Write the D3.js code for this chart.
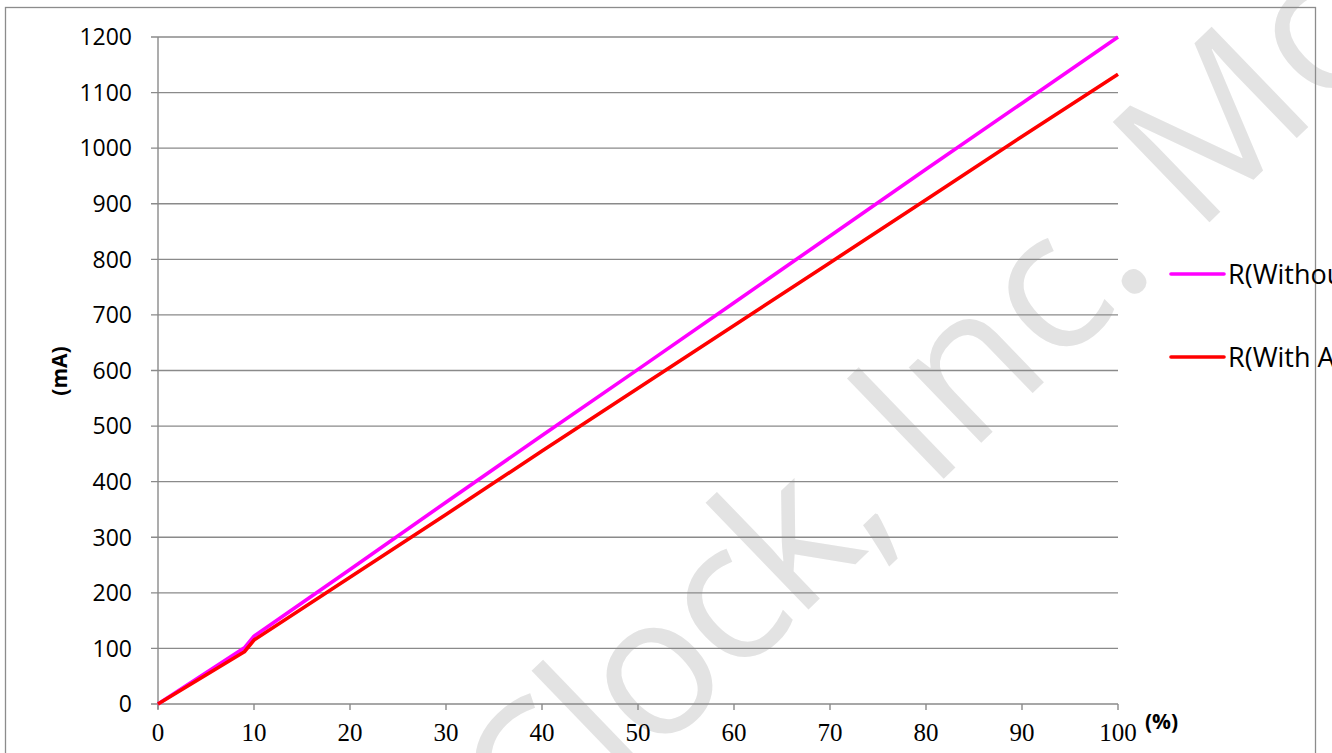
<!DOCTYPE html>
<html>
<head>
<meta charset="utf-8">
<script src="https://cdn.jsdelivr.net/npm/d3@7"></script>
<style>
    html, body { margin: 0; padding: 0; background: #fff; overflow: hidden; }
    svg { display: block; }
    .axis-title { font-family: "Open Sans", sans-serif; font-weight: bold; font-size: 21px; fill: #000; }
    .legend-label { font-family: "Open Sans", sans-serif; font-size: 27px; fill: #000; }
    .watermark { font-family: "Open Sans", sans-serif; font-size: 195px; fill: #e3e3e3; }
</style>
</head>
<body>
<div id="chart"></div>
<script>
// ===== Data =====
const percentValues = [0, 9, 10, 20, 30, 40, 50, 60, 70, 80, 90, 100];
const withoutValues = [0, 101, 122, 242, 363, 483, 602, 722, 842, 962, 1081, 1200];
const withValues = [0, 94, 115, 228, 341, 455, 568, 681, 794, 907, 1021, 1133];
const seriesNames = ['R(Without Adjust)', 'R(With Adjust)'];
const seriesColors = ['#ff00ff', '#ff0000'];
const yTicks = [0, 100, 200, 300, 400, 500, 600, 700, 800, 900, 1000, 1100, 1200];
const xTicks = [0, 10, 20, 30, 40, 50, 60, 70, 80, 90, 100];

// ===== Layout =====
const W = 1332, H = 753;
const plot = { left: 158, right: 1118, top: 37, bottom: 704 };
const gridColor = '#8a8a8a';

const svg = d3.select('#chart').append('svg')
    .attr('width', W)
    .attr('height', H);

// Watermark (behind everything)
const wm = svg.append('g').attr('transform', 'translate(930,492) rotate(-44)');
wm.append('text').attr('class', 'watermark').attr('text-anchor', 'end')
    .attr('letter-spacing', -6).text('Clock,\u00A0');
wm.append('text').attr('class', 'watermark').attr('text-anchor', 'start').text('Inc. Mo');

// Chart frame
svg.append('rect')
    .attr('x', 5.5).attr('y', 7.5)
    .attr('width', 1310).attr('height', 760)
    .attr('fill', 'none')
    .attr('stroke', '#8c8c8c')
    .attr('stroke-width', 1.3);

// ===== Scales =====
const x = d3.scaleLinear().domain([0, 100]).range([plot.left, plot.right]);
const y = d3.scaleLinear().domain([0, 1200]).range([plot.bottom, plot.top]);

// Horizontal gridlines + y ticks
const yAxis = svg.append('g');
yAxis.selectAll('line')
    .data(yTicks)
    .enter()
    .append('line')
    .attr('x1', plot.left - 7)
    .attr('x2', plot.right)
    .attr('y1', d => y(d))
    .attr('y2', d => y(d))
    .attr('stroke', gridColor)
    .attr('stroke-width', 1.4);
yAxis.selectAll('text')
    .data(yTicks)
    .enter()
    .append('text')
    .attr('x', 132)
    .attr('y', d => y(d))
    .attr('dy', '0.36em')
    .attr('text-anchor', 'end')
    .attr('font-family', 'Open Sans')
    .attr('font-size', 23)
    .text(d => d);

// Vertical axis line
svg.append('line')
    .attr('x1', plot.left).attr('x2', plot.left)
    .attr('y1', plot.top).attr('y2', plot.bottom + 5)
    .attr('stroke', gridColor)
    .attr('stroke-width', 1.4);

// X ticks
const xAxis = svg.append('g');
xAxis.selectAll('line')
    .data(xTicks)
    .enter()
    .append('line')
    .attr('x1', d => x(d))
    .attr('x2', d => x(d))
    .attr('y1', plot.bottom)
    .attr('y2', plot.bottom + 6)
    .attr('stroke', gridColor)
    .attr('stroke-width', 1.4);
xAxis.selectAll('text')
    .data(xTicks)
    .enter()
    .append('text')
    .attr('x', d => x(d))
    .attr('y', 741)
    .attr('text-anchor', 'middle')
    .attr('font-family', 'Liberation Serif')
    .attr('font-size', 25)
    .text(d => d);

// Axis titles
svg.append('text')
    .attr('class', 'axis-title')
    .attr('transform', 'translate(67,371) rotate(-90)')
    .attr('text-anchor', 'middle')
    .text('(mA)');

svg.append('text')
    .attr('class', 'axis-title')
    .attr('x', 1145)
    .attr('y', 729)
    .text('(%)');

// ===== Lines =====
const line = d3.line()
    .x(d => x(d[0]))
    .y(d => y(d[1]));

[withoutValues, withValues].forEach((vals, i) => {
    svg.append('path')
        .datum(percentValues.map((p, j) => [p, vals[j]]))
        .attr('d', line)
        .attr('fill', 'none')
        .attr('stroke', seriesColors[i])
        .attr('stroke-width', 3.6)
        .attr('stroke-linejoin', 'round');
});

// ===== Legend =====
const legendY = [274, 357];
seriesNames.forEach((name, i) => {
    svg.append('line')
        .attr('x1', 1171).attr('x2', 1224)
        .attr('y1', legendY[i]).attr('y2', legendY[i])
        .attr('stroke', seriesColors[i])
        .attr('stroke-width', 3.6)
        .attr('stroke-linecap', 'round');
    svg.append('text')
        .attr('class', 'legend-label')
        .attr('x', 1228)
        .attr('y', legendY[i])
        .attr('dy', '0.36em')
        .text(name);
});
</script>
</body>
</html>
